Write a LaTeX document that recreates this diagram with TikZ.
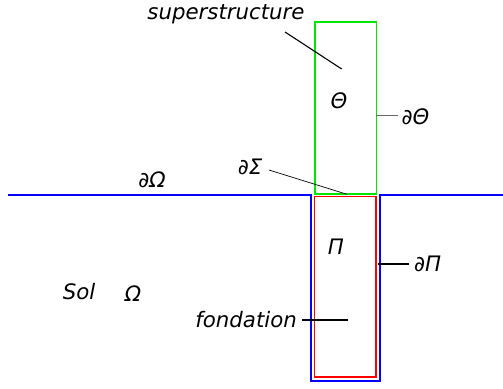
\documentclass[tikz,border=0pt]{standalone}
\usepackage{fontspec}
\setmainfont{DejaVu Sans}
\begin{document}
\begin{tikzpicture}[x=1pt,y=-1pt,
  lbl/.style={inner sep=0pt,font=\fontsize{21.3}{25}\selectfont\itshape},
  leader/.style={draw=black,line width=1.1pt},
  boxg/.style={draw=green!90!black,line width=1.5pt,inner sep=0pt},
  boxr/.style={draw=red,line width=1.5pt,inner sep=0pt},
  ground/.style={draw=blue,line width=2pt}]
\useasboundingbox (0,0) rectangle (503,388);
% boxes
\node[boxg,minimum width=61.5pt,minimum height=172pt] (theta) at (345.5,108) {};
\node[boxr,minimum width=61.5pt,minimum height=180.5pt] (pi) at (345.2,286.7) {};
% ground line with pit
\draw[ground] (8,195) -- (311,195) -- (311,381) -- (380,381) -- (380,195) -- (503,195);
% labels
\node[lbl] (sup) at (226,14) {superstructure};
\node[lbl] (th) at (339,101) {Θ};
\node[lbl,anchor=west] (dth) at (401.5,117) {{\upshape ∂}Θ};
\node[lbl] (dom) at (152,180) {{\upshape ∂}Ω};
\node[lbl] (dsig) at (250,167) {{\upshape ∂}Σ};
\node[lbl] (p) at (336,247) {Π};
\node[lbl,anchor=west] (dpi) at (414,263.5) {{\upshape ∂}Π};
\node[lbl] (sol) at (79,292) {Sol};
\node[lbl] (om) at (133,294) {Ω};
\node[lbl,anchor=east] (fond) at (297,320) {fondation};
% leader coordinates
\coordinate (s1) at (285,32);
\coordinate (s2) at (341.7,69);
\coordinate (t1) at (376,115.7);
\coordinate (t2) at (397.7,115.7);
\coordinate (g1) at (269,170);
\coordinate (g2) at (347,194.3);
\coordinate (p1) at (378,264);
\coordinate (p2) at (409,264);
\coordinate (f1) at (302,320);
\coordinate (f2) at (348,320);
\draw[leader] (s1) -- (s2);
\draw[leader,draw=gray!80!black,line width=0.9pt] (t1) -- (t2);
\draw[leader,line width=0.7pt] (g1) -- (g2);
\draw[leader] (p1) -- (p2);
\draw[leader] (f1) -- (f2);
\end{tikzpicture}
\end{document}
